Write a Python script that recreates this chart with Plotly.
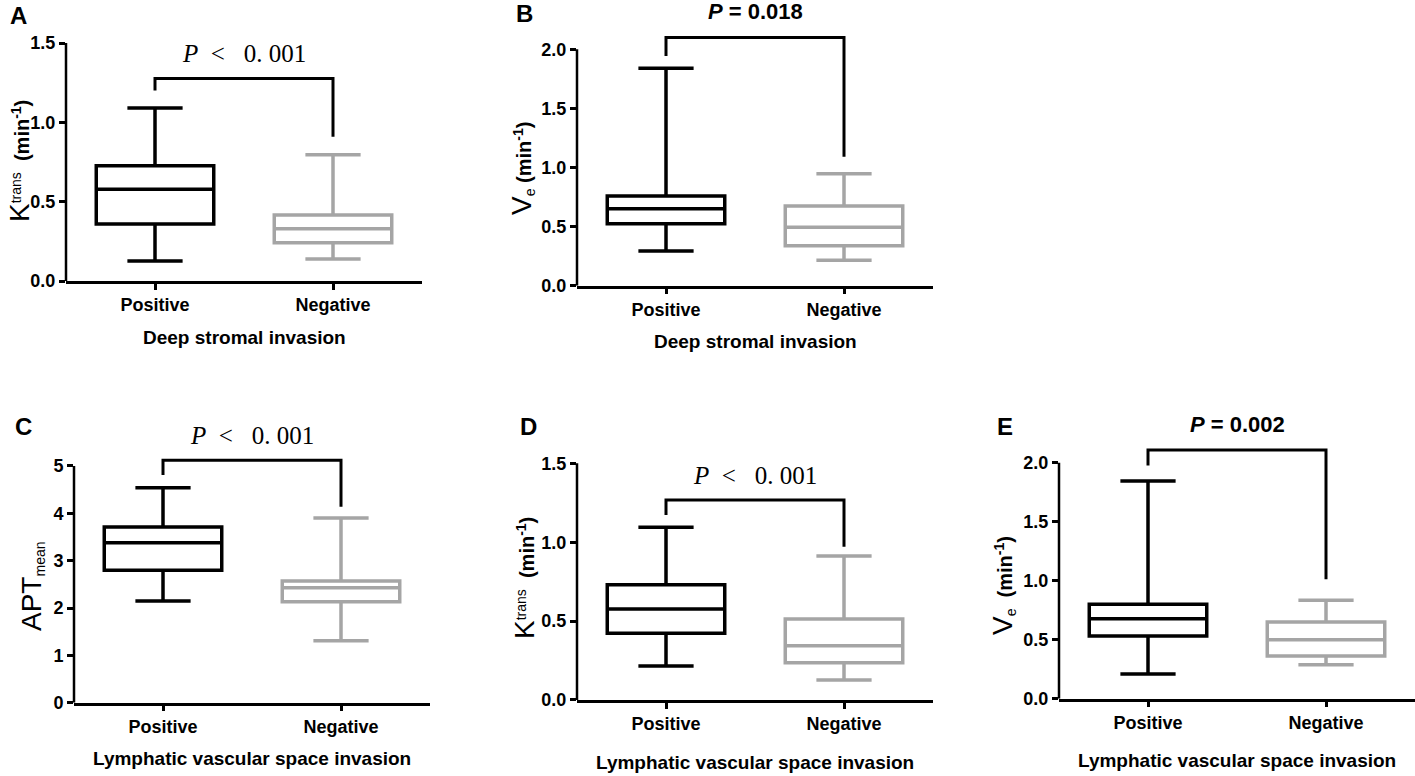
import plotly.graph_objects as go

W, H = 1415, 776

groups = ["Positive", "Negative"]

# five-number summaries: [min, q1, median, q3, max]
ktrans_dsi_pos = [0.126, 0.359, 0.578, 0.727, 1.090]
ktrans_dsi_neg = [0.139, 0.241, 0.330, 0.416, 0.796]
ve_dsi_pos = [0.294, 0.525, 0.652, 0.759, 1.839]
ve_dsi_neg = [0.215, 0.338, 0.494, 0.674, 0.948]
apt_lvsi_pos = [2.15, 2.80, 3.38, 3.71, 4.54]
apt_lvsi_neg = [1.31, 2.13, 2.43, 2.57, 3.90]
ktrans_lvsi_pos = [0.215, 0.423, 0.577, 0.731, 1.094]
ktrans_lvsi_neg = [0.127, 0.236, 0.344, 0.513, 0.913]
ve_lvsi_pos = [0.209, 0.531, 0.678, 0.800, 1.845]
ve_lvsi_neg = [0.288, 0.362, 0.500, 0.650, 0.834]

# significance brackets: [left leg end, top, right leg end]
bracket_a = [1.200, 1.277, 0.909]
bracket_b = [1.943, 2.099, 1.091]
bracket_c = [4.81, 5.12, 4.14]
bracket_d = [1.172, 1.267, 0.971]
bracket_e = [1.977, 2.107, 1.012]

p_labels = ["P < 0.001", "P = 0.018", "P < 0.001", "P < 0.001", "P = 0.002"]

ticks_k = [0, 0.5, 1.0, 1.5]
ticks_v = [0, 0.5, 1.0, 1.5, 2.0]
ticks_apt = [0, 1, 2, 3, 4, 5]

BIG = "<span style='font-size:28px'>%s</span>"
UNIT = "<b>(min<sup>-1</sup>)</b>"
title_k = BIG % "K" + "<sup>trans</sup>\u00a0 " + UNIT
title_k2 = BIG % "K" + "<sup>trans</sup>\u00a0\u00a0" + UNIT
title_v = BIG % "V" + "<sub>e</sub> " + UNIT
title_v2 = BIG % "V" + "<sub>e</sub>\u00a0\u00a0" + UNIT
title_apt = BIG % "APT" + "<sub>mean</sub>"

DSI = "Deep stromal invasion"
LVSI = "Lymphatic vascular space invasion"

# panel geometry in pixels: left, right, zero line, axis top
panels = [
    dict(letter="A", pos=ktrans_dsi_pos, neg=ktrans_dsi_neg, br=bracket_a, p=p_labels[0],
         ticks=ticks_k, fmt=".1f", ytitle=title_k, xtitle=DSI,
         geo=(66, 422, 281, 43), lab=(18, 15), yt=(19, 161), xt=56),
    dict(letter="B", pos=ve_dsi_pos, neg=ve_dsi_neg, br=bracket_b, p=p_labels[1],
         ticks=ticks_v, fmt=".1f", ytitle=title_v, xtitle=DSI,
         geo=(577, 933, 285.7, 49.3), lab=(524, 13), yt=(522, 169), xt=56),
    dict(letter="C", pos=apt_lvsi_pos, neg=apt_lvsi_neg, br=bracket_c, p=p_labels[2],
         ticks=ticks_apt, fmt="d", ytitle=title_apt, xtitle=LVSI,
         geo=(74, 430, 702.7, 466), lab=(23, 426), yt=(32, 586), xt=56),
    dict(letter="D", pos=ktrans_lvsi_pos, neg=ktrans_lvsi_neg, br=bracket_d, p=p_labels[3],
         ticks=ticks_k, fmt=".1f", ytitle=title_k2, xtitle=LVSI,
         geo=(577, 933, 700, 463.3), lab=(528, 426), yt=(524, 578), xt=62),
    dict(letter="E", pos=ve_lvsi_pos, neg=ve_lvsi_neg, br=bracket_e, p=p_labels[4],
         ticks=ticks_v, fmt=".1f", ytitle=title_v2, xtitle=LVSI,
         geo=(1059, 1415, 698.7, 462.7), lab=(1005, 426), yt=(1003, 586), xt=62),
]

SANS = "Arial, Liberation Sans, sans-serif"
SERIF = "Times New Roman, Liberation Serif, serif"
GREY = "#a5a5a5"


def fx(px):
    return px / W


def fy(py):
    return 1 - py / H


fig = go.Figure()
shapes = []
annotations = []
layout = {}

for i, p in enumerate(panels):
    n = "" if i == 0 else str(i + 1)
    xa, ya = "x" + n, "y" + n
    xl, xr, y0, ytop = p["geo"]
    vtop = p["ticks"][-1]
    rtop = vtop * 1.15
    per = (y0 - ytop) / vtop

    for vals, col in [(p["pos"], "black"), (p["neg"], GREY)]:
        name = groups[0] if col == "black" else groups[1]
        fig.add_trace(go.Box(
            x=[name], lowerfence=[vals[0]], q1=[vals[1]], median=[vals[2]],
            q3=[vals[3]], upperfence=[vals[4]],
            width=0.66, whiskerwidth=0.47, fillcolor="white",
            line=dict(color=col, width=3.5), boxpoints=False,
            xaxis=xa, yaxis=ya, showlegend=False, hoverinfo="skip"))

    br = p["br"]
    fig.add_trace(go.Scatter(
        x=[groups[0], groups[0], groups[1], groups[1]],
        y=[br[0], br[1], br[1], br[2]],
        mode="lines", line=dict(color="black", width=3),
        xaxis=xa, yaxis=ya, showlegend=False, hoverinfo="skip"))

    layout["xaxis" + n] = dict(
        domain=[fx(xl), fx(xr)], anchor=ya, type="category",
        categoryorder="array", categoryarray=groups, range=[-0.5, 1.5],
        showline=True, linecolor="black", linewidth=2.5,
        ticks="outside", ticklen=6, tickwidth=2.5, tickcolor="black",
        tickfont=dict(family=SANS, size=18, color="black", weight="bold"),
        showgrid=False, zeroline=False, fixedrange=True, automargin=False)
    layout["yaxis" + n] = dict(
        domain=[fy(y0), fy(y0 - rtop * per)], anchor=xa, range=[0, rtop],
        tickvals=p["ticks"], tickformat=p["fmt"], showline=False,
        ticks="outside", ticklen=6, tickwidth=2.5, tickcolor="black",
        tickfont=dict(family=SANS, size=18, color="black", weight="bold"),
        showgrid=False, zeroline=False, fixedrange=True, automargin=False)

    # y spine stops at the last tick
    shapes.append(dict(type="line", xref=xa + " domain", yref=ya,
                       x0=0, x1=0, y0=0, y1=vtop,
                       line=dict(color="black", width=2.5)))

    if "<" in p["p"]:
        ptxt = "<i>P</i>\u00a0\u00a0&lt;\u00a0\u00a0\u00a00.\u00a0001"
        pfont = dict(family=SERIF, size=25, color="black")
        shift = 25
    else:
        ptxt = "<i>P</i> " + p["p"][2:]
        pfont = dict(family=SANS, size=22, color="black", weight="bold")
        shift = 26
    annotations.append(dict(x=0.5, y=br[1], xref=xa, yref=ya, text=ptxt,
                            showarrow=False, yanchor="middle", yshift=shift, font=pfont))

    annotations.append(dict(x=fx(p["lab"][0]), y=fy(p["lab"][1]), xref="paper", yref="paper",
                            text=p["letter"], showarrow=False, xanchor="center", yanchor="middle",
                            font=dict(family=SANS, size=24, color="black", weight="bold")))
    annotations.append(dict(x=fx(p["yt"][0]), y=fy(p["yt"][1]), xref="paper", yref="paper",
                            text=p["ytitle"], textangle=-90, showarrow=False,
                            xanchor="center", yanchor="middle",
                            font=dict(family=SANS, size=20, color="black")))
    annotations.append(dict(x=fx((xl + xr) / 2), y=fy(p["xt"] + y0), xref="paper", yref="paper",
                            text=p["xtitle"], showarrow=False, xanchor="center", yanchor="middle",
                            font=dict(family=SANS, size=19, color="black", weight="bold")))

fig.update_layout(
    width=W, height=H, margin=dict(l=0, r=0, t=0, b=0, autoexpand=False),
    paper_bgcolor="white", plot_bgcolor="white", showlegend=False,
    shapes=shapes, annotations=annotations, **layout)

# the page body has a default 8px margin; drop it so the figure fills the window
fig.write_html("out.html", config={"displayModeBar": False},
               post_script="document.body.style.margin = '0';")
